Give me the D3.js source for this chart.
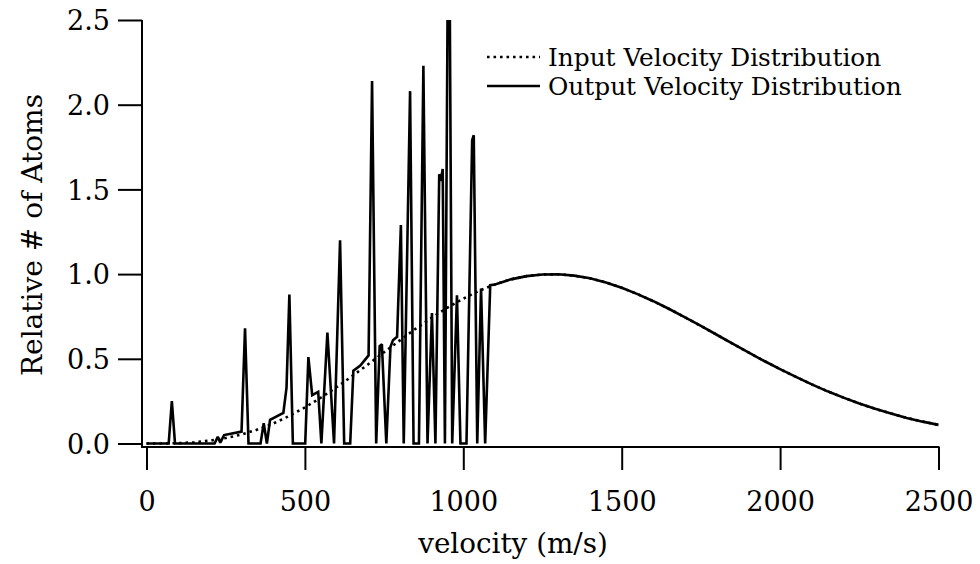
<!DOCTYPE html>
<html>
<head>
<meta charset="utf-8">
<script src="https://cdn.jsdelivr.net/npm/d3@7"></script>
<style>
  html, body { margin: 0; padding: 0; background: #fff; }
  svg { display: block; }
  text { font-family: "DejaVu Serif", serif; fill: #000; }
</style>
</head>
<body>
<svg id="chart" width="980" height="564"></svg>
<script>
// ---- data ----
const inputVelocity = [0,50,100,150,200,250,300,350,400,450,500,550,600,650,700,750,800,850,900,950,1000,1050,1100,1150,1200,1250,1300,1350,1400,1450,1500,1550,1600,1650,1700,1750,1800,1850,1900,1950,2000,2050,2100,2150,2200,2250,2300,2350,2400,2450,2500];
const inputValue = [0,0.0003,0.002,0.007,0.017,0.032,0.053,0.082,0.118,0.162,0.213,0.27,0.332,0.399,0.468,0.539,0.609,0.678,0.742,0.802,0.855,0.902,0.939,0.969,0.988,0.998,0.999,0.991,0.975,0.951,0.919,0.882,0.840,0.794,0.745,0.694,0.642,0.589,0.538,0.487,0.439,0.393,0.349,0.308,0.271,0.236,0.205,0.177,0.151,0.129,0.110];

const outputVelocity = [0,70,80,90,215,225,233,245,300,311,322,360,370,380,390,432,442,451,462,501,511,523,542,552,571,592,611,624,643,653,675,701,712,725,736,743,757,770,778,791,803,812,832,843,860,874,887,901,912,924,929,935,942,951,957,965,980,991,1010,1028,1033,1044,1056,1069,1085];
const outputValue = [0,0,0.25,0,0,0.04,0.005,0.05,0.07,0.68,0,0,0.12,0,0.14,0.18,0.33,0.88,0,0,0.51,0.285,0.305,0,0.655,0,1.2,0,0,0.43,0.46,0.52,2.14,0,0.575,0.585,0,0.57,0.61,0.63,1.29,0,2.08,0,0,2.23,0,0.77,0,1.59,1.55,1.62,0,2.75,2.7,0,0.875,0,0,1.79,1.82,0,0.915,0,0.935];

const xTicks = [0,500,1000,1500,2000,2500];
const yTicks = [0.0,0.5,1.0,1.5,2.0,2.5];
const seriesNames = ["Input Velocity Distribution","Output Velocity Distribution"];
const xTitle = "velocity (m/s)";
const yTitle = "Relative # of Atoms";

// ---- build tables ----
const inputData = inputVelocity.map((v,i)=>({v, y: inputValue[i]}));
const outputData = outputVelocity.map((v,i)=>({v, y: outputValue[i]}))
  .concat(inputData.filter(d => d.v > 1085));

// ---- layout ----
const svg = d3.select("#chart");
const x = d3.scaleLinear().domain([0,2500]).range([146.5, 938.5]);
const y = d3.scaleLinear().domain([0,2.5]).range([443.5, 20]);
const axisX0 = 142, axisY0 = 447;

svg.append("defs").append("clipPath").attr("id","plotclip")
  .append("rect").attr("x", axisX0).attr("y", 20).attr("width", 960-axisX0).attr("height", axisY0-20);

// axes
const gx = svg.append("g").attr("transform", `translate(0,${axisY0})`)
  .call(d3.axisBottom(x).tickValues(xTicks).tickFormat(d3.format("d")).tickSize(23).tickSizeOuter(0));
gx.select(".domain").remove();
gx.selectAll(".tick line").attr("stroke","#000").attr("stroke-width",2);
gx.selectAll(".tick text").attr("y", 64).attr("dy", 0)
  .style("font-size","27px").style("font-family","'DejaVu Serif', serif");

const gy = svg.append("g").attr("transform", `translate(${axisX0},0)`)
  .call(d3.axisLeft(y).tickValues(yTicks).tickFormat(d3.format(".1f")).tickSize(24).tickPadding(8).tickSizeOuter(0));
gy.select(".domain").remove();
gy.selectAll(".tick line").attr("stroke","#000").attr("stroke-width",2);
gy.selectAll(".tick text").attr("dy","0.36em")
  .style("font-size","27px").style("font-family","'DejaVu Serif', serif");

svg.append("line").attr("x1", axisX0).attr("x2", axisX0).attr("y1", 20).attr("y2", axisY0+1)
  .attr("stroke","#000").attr("stroke-width",2);
svg.append("line").attr("x1", axisX0-1).attr("x2", x(2500)+1).attr("y1", axisY0).attr("y2", axisY0)
  .attr("stroke","#000").attr("stroke-width",2);

// lines
const line = d3.line().x(d => x(d.v)).y(d => y(d.y));
const plot = svg.append("g").attr("clip-path","url(#plotclip)");
plot.append("path").datum(inputData).attr("d", line)
  .attr("fill","none").attr("stroke","#000").attr("stroke-width",2.6)
  .attr("stroke-dasharray","2.6,3.9");
plot.append("path").datum(outputData).attr("d", line)
  .attr("fill","none").attr("stroke","#000").attr("stroke-width",2.6)
  .attr("stroke-linejoin","miter").attr("stroke-miterlimit",2);

// titles
svg.append("text").attr("x", 513).attr("y", 553).attr("text-anchor","middle")
  .style("font-size","27.8px").text(xTitle);
svg.append("text").attr("transform","translate(42,235) rotate(-90)").attr("text-anchor","middle")
  .style("font-size","28px").text(yTitle);

// legend
const legend = svg.append("g");
const legY = [57, 86];
legend.append("line").attr("x1",487).attr("x2",540).attr("y1",legY[0]).attr("y2",legY[0])
  .attr("stroke","#000").attr("stroke-width",2.6).attr("stroke-dasharray","2.6,3.9");
legend.append("line").attr("x1",487).attr("x2",540).attr("y1",legY[1]).attr("y2",legY[1])
  .attr("stroke","#000").attr("stroke-width",2.6);
seriesNames.forEach((n,i)=>{
  legend.append("text").attr("x",548).attr("y",legY[i]).attr("dy","0.36em")
    .style("font-size","24.8px").text(n);
});
</script>
</body>
</html>
